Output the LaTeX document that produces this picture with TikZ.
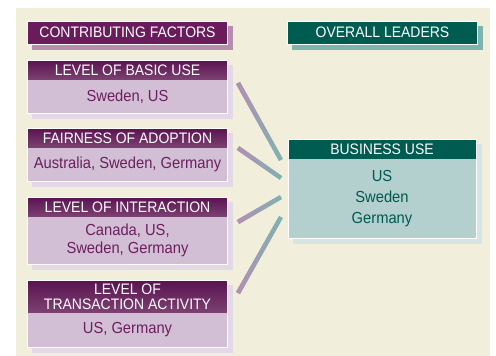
\documentclass[tikz,border=0pt]{standalone}
\usepackage{fontspec}
\setmainfont{Liberation Sans}[FakeStretch=0.92]
\usetikzlibrary{positioning, fit, fadings, backgrounds}
\definecolor{bgcream}{HTML}{F2EEDC}
\definecolor{titlepurple}{HTML}{6A1B5C}
\definecolor{headtop}{HTML}{5A1350}
\definecolor{headbot}{HTML}{7C4272}
\definecolor{bodypurple}{HTML}{D3BFD5}
\definecolor{textpurple}{HTML}{6B1F5E}
\definecolor{titleshadow}{HTML}{B48DAF}
\definecolor{boxshadow}{HTML}{E3D8E5}
\definecolor{tealdark}{HTML}{005B50}
\definecolor{bodyteal}{HTML}{B3CFCE}
\definecolor{textteal}{HTML}{00594E}
\definecolor{leadshadow}{HTML}{7FB3AF}
\definecolor{bushadow}{HTML}{D6E5E3}
\definecolor{linkpurple}{HTML}{B68DB4}
\definecolor{linkteal}{HTML}{7DB4B0}
\tikzset{%
  every title/.style={
    rectangle,
    draw=white,
    line width=1pt,
    minimum height=23pt,
    inner sep=0pt,
    text=white,
    font=\fontsize{15.2}{18}\selectfont
  },
  every factor head/.style={
    rectangle,
    minimum width=200pt,
    minimum height=20pt,
    inner sep=0pt,
    outer sep=0pt,
    top color=headtop,
    bottom color=headbot,
    text=white,
    align=center,
    font=\fontsize{15.2}{15}\selectfont
  },
  every factor body/.style={
    rectangle,
    minimum width=200pt,
    inner sep=0pt,
    outer sep=0pt,
    fill=bodypurple,
    text=textpurple,
    align=center,
    font=\fontsize{16}{18}\selectfont
  },
  every leader head/.style={
    rectangle,
    minimum width=188pt,
    minimum height=20pt,
    inner sep=0pt,
    outer sep=0pt,
    fill=tealdark,
    text=white,
    font=\fontsize{15.2}{18}\selectfont
  },
  every leader body/.style={
    rectangle,
    minimum width=188pt,
    inner sep=0pt,
    outer sep=0pt,
    fill=bodyteal,
    text=textteal,
    align=center,
    font=\fontsize{16}{21}\selectfont
  },
  every frame/.style={
    rectangle,
    draw=white,
    line width=1pt,
    inner sep=0pt
  }
}

\begin{document}
\begin{tikzpicture}[x=1pt, y=-1pt, link/.style={line width=4.5pt}]
		\useasboundingbox (0,0) rectangle (496,356);
		%% titles
		\node[every title, fill=titlepurple, minimum width=200pt] (cf) at (127.5,32.5) {CONTRIBUTING FACTORS};
		\node[every title, fill=tealdark, minimum width=190pt] (ol) at (382.5,32.5) {OVERALL LEADERS};
		%% factor 1
		\node[every factor head, below=15.5pt of cf] (h1) {LEVEL OF BASIC USE};
		\node[every factor body, minimum height=33pt, below=0pt of h1] (b1) {Sweden, US};
		\node[every frame, fit=(h1)(b1)] (f1) {};
		%% factor 2
		\node[every factor head, below=15pt of b1] (h2) {FAIRNESS OF ADOPTION};
		\node[every factor body, minimum height=33pt, below=0pt of h2] (b2) {Australia, Sweden, Germany};
		\node[every frame, fit=(h2)(b2)] (f2) {};
		%% factor 3
		\node[every factor head, below=16pt of b2] (h3) {LEVEL OF INTERACTION};
		\node[every factor body, minimum height=47pt, below=0pt of h3] (b3) {Canada, US,\\Sweden, Germany};
		\node[every frame, fit=(h3)(b3)] (f3) {};
		%% factor 4
		\node[every factor head, minimum height=33pt, below=16pt of b3] (h4) {LEVEL OF\\TRANSACTION ACTIVITY};
		\node[every factor body, minimum height=34pt, below=0pt of h4] (b4) {US, Germany};
		\node[every frame, fit=(h4)(b4)] (f4) {};
		%% business use
		\node[every leader head] (bu) at (382,149) {BUSINESS USE};
		\node[every leader body, minimum height=79pt, below=0pt of bu] (bub) {US\\Sweden\\Germany};
		\node[every frame, fit=(bu)(bub)] (fbu) {};
		%% link ends
		\coordinate (s1) at (238,83);
		\coordinate (e1) at (281,160);
		\coordinate (s2) at (238,148);
		\coordinate (e2) at (281,178);
		\coordinate (s3) at (238,222);
		\coordinate (e3) at (281,197);
		\coordinate (s4) at (238,293);
		\coordinate (e4) at (281,217);
		\foreach \i in {1,...,4} {
			\draw[link, linkteal] (s\i) -- (e\i);
			\draw[link, linkpurple, path fading=east] (s\i) -- (e\i);
		}
		%% background and shadows
		\begin{scope}[on background layer]
			\fill[bgcream] (16,8) rectangle (490,356);
			\fill[titleshadow] ([shift={(5,5)}]cf.north west) rectangle ([shift={(5,5)}]cf.south east);
			\fill[leadshadow] ([shift={(5,5)}]ol.north west) rectangle ([shift={(5,5)}]ol.south east);
			\foreach \f in {f1,f2,f3,f4}
				\fill[boxshadow] ([shift={(5,5)}]\f.north west) rectangle ([shift={(5,5)}]\f.south east);
			\fill[bushadow] ([shift={(5,5)}]fbu.north west) rectangle ([shift={(5,5)}]fbu.south east);
		\end{scope}
	\end{tikzpicture}
\end{document}
